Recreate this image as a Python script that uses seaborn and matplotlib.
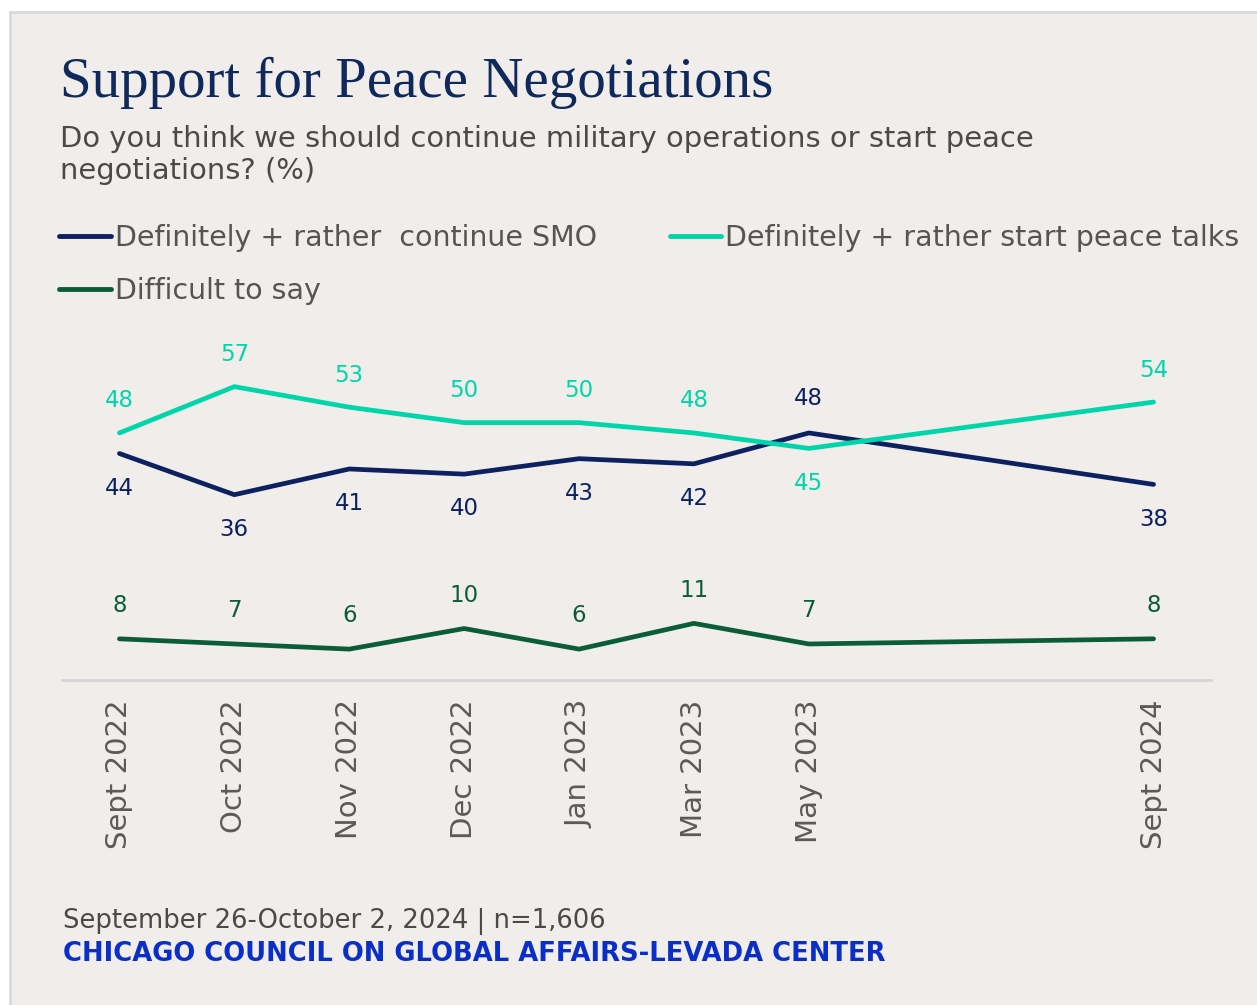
import matplotlib
matplotlib.use("Agg")
import matplotlib.pyplot as plt
from matplotlib.patches import Rectangle
from matplotlib.lines import Line2D
import seaborn as sns
import pandas as pd

months = ["Sept 2022", "Oct 2022", "Nov 2022", "Dec 2022", "Jan 2023",
          "Mar 2023", "May 2023", "Sept 2024"]
x_index = [0, 1, 2, 3, 4, 5, 6, 9]
continue_smo = [44, 36, 41, 40, 43, 42, 48, 38]
peace_talks = [48, 57, 53, 50, 50, 48, 45, 54]
difficult = [8, 7, 6, 10, 6, 11, 7, 8]

series_names = ["Definitely + rather  continue SMO",
                "Definitely + rather start peace talks",
                "Difficult to say"]
colors = ["#0d2161", "#00d6a9", "#0b5d38"]

rows = []
for name, vals in zip(series_names, [continue_smo, peace_talks, difficult]):
    for m, xi, v in zip(months, x_index, vals):
        rows.append({"month": m, "x": xi, "value": v, "series": name})
df = pd.DataFrame(rows)

sns.set_theme(style="white")
plt.rcParams['font.family'] = ['DejaVu Sans']

BG = "#f0edea"
fig = plt.figure(figsize=(12.57, 10.05), dpi=100, facecolor="white")
W, H = 1257, 1005
card = Rectangle((10 / W, -0.01), 1.02, (H - 12) / H + 0.01, transform=fig.transFigure,
                 facecolor=BG, edgecolor="#d9d9d9", linewidth=2, zorder=-10)
fig.patches.append(card)

ax = fig.add_axes([62 / W, (H - 680) / H, (1211 - 62) / W, 350 / H])
ax.set_facecolor(BG)
ax.patch.set_alpha(0)
ax.set_zorder(5)

sns.lineplot(data=df, x="x", y="value", hue="series", palette=colors,
             hue_order=series_names, linewidth=3.4, ax=ax, legend=False,
             solid_capstyle="round", sort=False)

ax.set_xlim(-0.5, 9.5)
ax.set_ylim(0, 68)
for s in ["top", "right", "left"]:
    ax.spines[s].set_visible(False)
ax.spines["bottom"].set_color("#d6d6d6")
ax.spines["bottom"].set_linewidth(2)
ax.set_yticks([])
ax.set_xticks(x_index)
ax.set_xticklabels(months, rotation=90, fontsize=21, color="#5a5a5a")
ax.tick_params(axis="x", length=0, pad=14)
ax.set_xlabel("")
ax.set_ylabel("")

# data labels
for i, xi in enumerate(x_index):
    c, p, d = continue_smo[i], peace_talks[i], difficult[i]
    c_above = c > p
    ax.annotate(str(c), (xi, c), xytext=(0, 25 if c_above else -25),
                textcoords="offset points", ha="center", va="center",
                fontsize=16.5, color=colors[0])
    ax.annotate(str(p), (xi, p), xytext=(0, -25 if c_above else 23),
                textcoords="offset points", ha="center", va="center",
                fontsize=16.5, color=colors[1])
    ax.annotate(str(d), (xi, d), xytext=(0, 24),
                textcoords="offset points", ha="center", va="center",
                fontsize=16.5, color=colors[2])

# title and subtitle
fig.text(60 / W, 1 - 83 / H, "Support for Peace Negotiations",
         family=["Liberation Serif", "DejaVu Serif"], fontsize=41,
         color="#10295c", va="center", ha="left")
fig.text(60 / W, 1 - 155 / H,
         "Do you think we should continue military operations or start peace\nnegotiations? (%)",
         fontsize=20.9, color="#4a4a4a", va="center", ha="left", linespacing=1.2)

# legend
handles = [Line2D([0], [0], color=col, lw=3.5) for col in colors]
order = [0, 2, 1]
leg = fig.legend([handles[i] for i in order], [series_names[i] for i in order],
                 loc="upper left", bbox_to_anchor=(48 / W, 1 - 213 / H), ncol=2,
                 frameon=False, fontsize=20.5, handlelength=1.8, handletextpad=0.15,
                 columnspacing=2.55, labelspacing=0.85, borderaxespad=0)
for t in leg.get_texts():
    t.set_color("#555555")

# footer
fig.text(63 / W, 1 - 921 / H, "September 26-October 2, 2024 | n=1,606",
         fontsize=18.6, color="#4a4a4a", va="center", ha="left")
fig.text(63 / W, 1 - 954 / H, "CHICAGO COUNCIL ON GLOBAL AFFAIRS-LEVADA CENTER",
         fontsize=18.6, color="#0a2fc9", va="center", ha="left", fontweight="bold")

fig.savefig("out.png", dpi=100, facecolor="white")
